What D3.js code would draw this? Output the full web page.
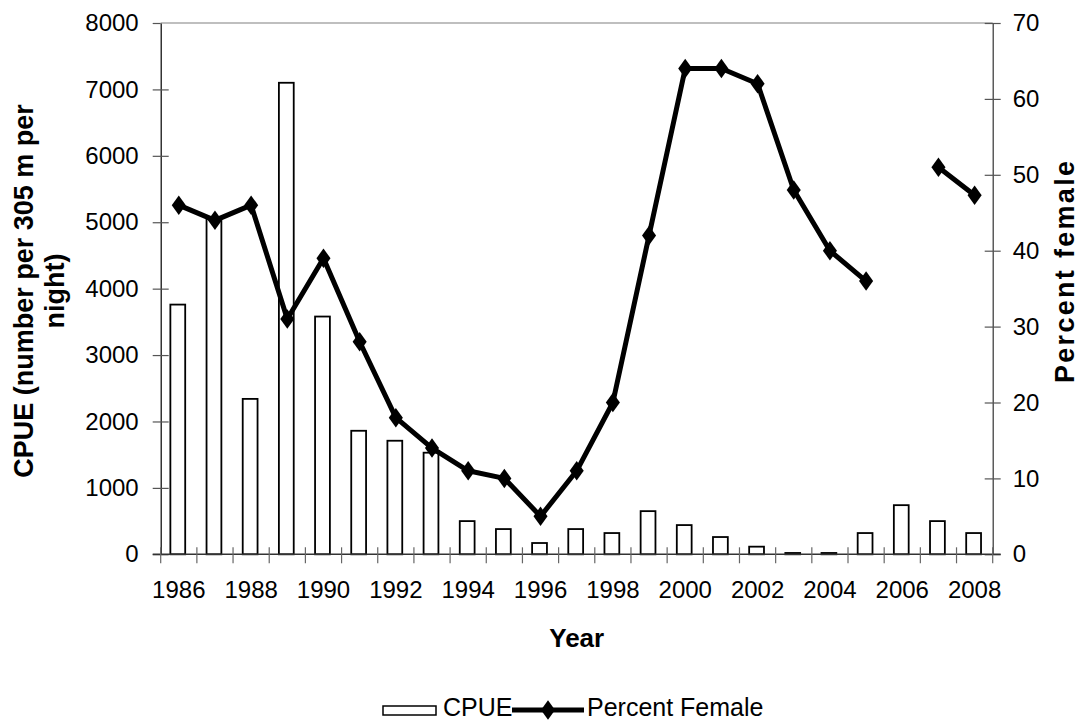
<!DOCTYPE html>
<html>
<head>
<meta charset="utf-8">
<script src="https://cdn.jsdelivr.net/npm/d3@7"></script>
<style>
body { margin: 0; background: #fff; }
text { font-family: "Liberation Sans", Arial, sans-serif; }
</style>
</head>
<body>
<svg id="chart" width="1081" height="721"></svg>
<script>
// data
var years = [1986, 1987, 1988, 1989, 1990, 1991, 1992, 1993, 1994, 1995, 1996, 1997,
             1998, 1999, 2000, 2001, 2002, 2003, 2004, 2005, 2006, 2007, 2008];
var cpue = [3760, 5050, 2340, 7100, 3580, 1860, 1710, 1530, 500, 380, 170, 380,
            320, 650, 440, 260, 115, 20, 20, 320, 740, 500, 320];
var pctFemale = [46, 44, 46, 31, 39, 28, 18, 14, 11, 10, 5, 11,
                 20, 42, 64, 64, 62, 48, 40, 36, null, 51, 47.3];
var yearLabels = [1986, 1988, 1990, 1992, 1994, 1996, 1998, 2000, 2002, 2004, 2006, 2008];
var cpueTicks = [0, 1000, 2000, 3000, 4000, 5000, 6000, 7000, 8000];
var pctTicks = [0, 10, 20, 30, 40, 50, 60, 70];

var pL = 160.7, pR = 992.7, pT = 23, pB = 554.3;

var svg = d3.select("#chart");

var x = d3.scaleBand().domain(years).range([pL, pR]).padding(0);
var yL = d3.scaleLinear().domain([0, 8000]).range([pB, pT]);
var yR = d3.scaleLinear().domain([0, 70]).range([pB, pT]);

var rows = years.map(function(y, i) { return {year: y, cpue: cpue[i], pct: pctFemale[i]}; });

// top border of plot
svg.append("line")
    .attr("x1", pL).attr("x2", pR)
    .attr("y1", pT).attr("y2", pT)
    .attr("stroke", "#808080").attr("stroke-width", 1.2);

// bars
var bw = x.bandwidth() * 0.41;
svg.append("g").selectAll("rect")
    .data(rows)
    .enter()
    .append("rect")
        .attr("x", function(d) { return x(d.year) + x.bandwidth() / 2 - bw / 2 - 1; })
        .attr("y", function(d) { return yL(d.cpue); })
        .attr("width", bw)
        .attr("height", function(d) { return pB - yL(d.cpue); })
        .attr("fill", "#fff")
        .attr("stroke", "#000")
        .attr("stroke-width", 1.8);

// left axis
var gL = svg.append("g")
    .attr("transform", "translate(" + pL + ",0)")
    .call(d3.axisLeft(yL).tickValues(cpueTicks).tickFormat(d3.format("d"))
        .tickSizeInner(8).tickSizeOuter(0).tickPadding(14));
gL.select(".domain").attr("stroke", "#000").attr("stroke-width", 1.2);
gL.selectAll(".tick line").attr("x2", -8).attr("x1", 8).attr("stroke", "#555").attr("stroke-width", 1.2);
gL.selectAll(".tick text").attr("font-size", 24).attr("fill", "#000")
    .style("font-family", "'Liberation Sans', Arial, sans-serif");
gL.selectAll(".tick").filter(function(d) { return d === 8000; }).select("line").attr("x1", 0);

// right axis
var gR = svg.append("g")
    .attr("transform", "translate(" + pR + ",0)")
    .call(d3.axisRight(yR).tickValues(pctTicks).tickSizeInner(8).tickSizeOuter(0).tickPadding(12));
gR.select(".domain").attr("stroke", "#333").attr("stroke-width", 1.2);
gR.selectAll(".tick line").attr("x1", -8).attr("x2", 8).attr("stroke", "#555").attr("stroke-width", 1.2);
gR.selectAll(".tick text").attr("font-size", 24).attr("fill", "#000")
    .style("font-family", "'Liberation Sans', Arial, sans-serif");

// bottom axis: line, boundary ticks, labels every other year
svg.append("line")
    .attr("x1", pL - 8).attr("x2", pR + 8)
    .attr("y1", pB).attr("y2", pB)
    .attr("stroke", "#333").attr("stroke-width", 1.4);

var bounds = years.concat([years[years.length - 1] + 1]);
svg.append("g").selectAll("line")
    .data(bounds)
    .enter()
    .append("line")
        .attr("x1", function(d) { return d > years[years.length - 1] ? pR : x(d); })
        .attr("x2", function(d) { return d > years[years.length - 1] ? pR : x(d); })
        .attr("y1", pB - 7)
        .attr("y2", pB + 9)
        .attr("stroke", "#666").attr("stroke-width", 1.2);

var gB = svg.append("g")
    .attr("transform", "translate(0," + pB + ")")
    .call(d3.axisBottom(x).tickValues(yearLabels).tickSize(0).tickPadding(27));
gB.select(".domain").remove();
gB.selectAll(".tick text").attr("font-size", 24).attr("fill", "#000")
    .style("font-family", "'Liberation Sans', Arial, sans-serif");

// percent female line
var line = d3.line()
    .defined(function(d) { return d.pct !== null; })
    .x(function(d) { return x(d.year) + x.bandwidth() / 2; })
    .y(function(d) { return yR(d.pct); });

svg.append("path")
    .datum(rows)
    .attr("d", line)
    .attr("fill", "none")
    .attr("stroke", "#000")
    .attr("stroke-width", 5)
    .attr("stroke-linejoin", "round");

var diamond = d3.symbol().type(d3.symbolDiamond).size(110);
svg.append("g").selectAll("path")
    .data(rows.filter(function(d) { return d.pct !== null; }))
    .enter()
    .append("path")
        .attr("d", diamond)
        .attr("transform", function(d) {
            return "translate(" + (x(d.year) + x.bandwidth() / 2) + "," + yR(d.pct) + ") scale(1.25,1)";
        })
        .attr("fill", "#000");

// axis titles
svg.append("text")
    .attr("x", (pL + pR) / 2).attr("y", 647)
    .attr("text-anchor", "middle")
    .attr("font-size", 26).attr("font-weight", "bold")
    .text("Year");

var lt = svg.append("text")
    .attr("transform", "translate(33,291) rotate(-90)")
    .attr("text-anchor", "middle")
    .attr("font-size", 27).attr("font-weight", "bold");
lt.append("tspan").attr("x", 0).attr("y", 0).text("CPUE (number per 305 m per");
lt.append("tspan").attr("x", 0).attr("y", 31).text("night)");

svg.append("text")
    .attr("transform", "translate(1074,272) rotate(-90)")
    .attr("text-anchor", "middle")
    .attr("font-size", 27).attr("font-weight", "bold")
    .attr("textLength", 222).attr("lengthAdjust", "spacing")
    .text("Percent female");

// legend
var lg = svg.append("g");
lg.append("rect")
    .attr("x", 383).attr("y", 706).attr("width", 53).attr("height", 9)
    .attr("fill", "#fff").attr("stroke", "#000").attr("stroke-width", 1.5);
lg.append("text")
    .attr("x", 443).attr("y", 716)
    .attr("font-size", 25)
    .text("CPUE");
lg.append("line")
    .attr("x1", 512).attr("x2", 584).attr("y1", 710).attr("y2", 710)
    .attr("stroke", "#000").attr("stroke-width", 5);
lg.append("path")
    .attr("d", diamond)
    .attr("transform", "translate(548,710) scale(1.25,1)")
    .attr("fill", "#000");
lg.append("text")
    .attr("x", 587).attr("y", 716)
    .attr("font-size", 25)
    .text("Percent Female");
</script>
</body>
</html>
